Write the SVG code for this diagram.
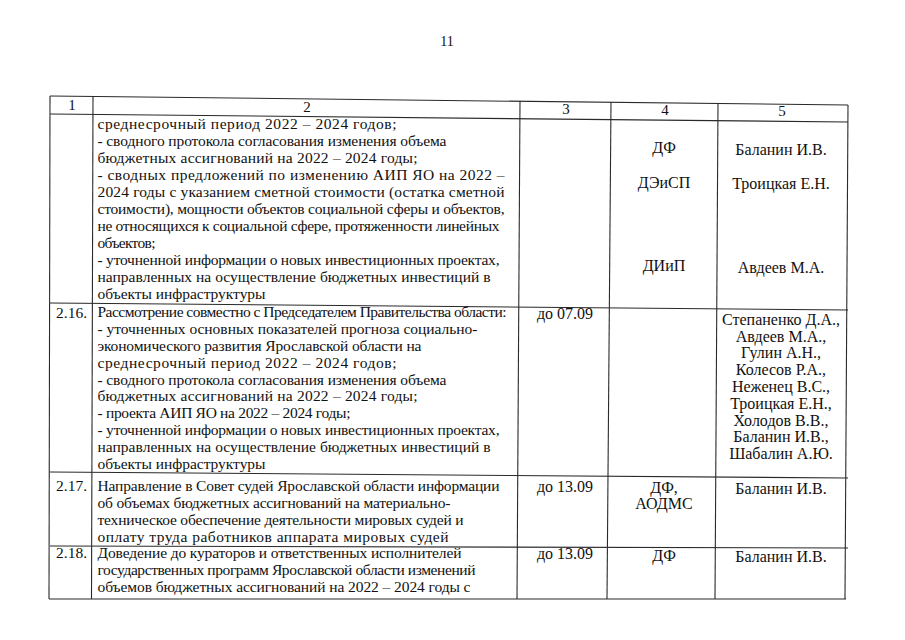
<svg xmlns="http://www.w3.org/2000/svg" width="905" height="640" viewBox="0 0 905 640">
<style>
text{font-family:"Liberation Serif","Times New Roman","DejaVu Serif",serif;font-size:15.5px;fill:#111}
.c{text-anchor:middle;font-size:16px}
.h{text-anchor:middle;font-size:15px}
.ln{stroke:#2a2a2a;stroke-width:1.1;fill:none}
</style>
<rect width="905" height="640" fill="#fff"/>
<text id="pagenum" class="h" x="447" y="46" style="font-size:14px">11</text>
<g id="grid">
<line class="ln" x1="50" y1="96" x2="848" y2="105"/>
<line class="ln" x1="50" y1="114" x2="848" y2="122"/>
<line class="ln" x1="50" y1="303" x2="848" y2="310"/>
<line class="ln" x1="50" y1="472" x2="848" y2="478"/>
<line class="ln" x1="50" y1="546" x2="848" y2="548"/>
<line class="ln" x1="49" y1="599" x2="846" y2="599"/>
<line class="ln" x1="50" y1="96" x2="49" y2="599"/>
<line class="ln" x1="93" y1="96.5" x2="91.5" y2="599"/>
<line class="ln" x1="520" y1="101" x2="517" y2="599"/>
<line class="ln" x1="611" y1="102" x2="607" y2="599"/>
<line class="ln" x1="718" y1="103" x2="715" y2="599"/>
<line class="ln" x1="848" y1="105" x2="845" y2="599"/>
</g>
<g id="header">
<text class="h" x="72" y="110">1</text>
<text class="h" x="307" y="112">2</text>
<text class="h" x="566" y="114">3</text>
<text class="h" x="665" y="115">4</text>
<text class="h" x="782" y="116">5</text>
</g>
<g id="row-cont" lengthAdjust="spacing">
<text x="97.5" y="129" textLength="299" lengthAdjust="spacing">среднесрочный период 2022 – 2024 годов;</text>
<text x="97.5" y="146" textLength="349" lengthAdjust="spacing">- сводного протокола согласования изменения объема</text>
<text x="97.5" y="163" textLength="320" lengthAdjust="spacing">бюджетных ассигнований на 2022 – 2024 годы;</text>
<text x="97.5" y="180" textLength="407" lengthAdjust="spacing">- сводных предложений по изменению АИП ЯО на 2022 –</text>
<text x="97.5" y="197" textLength="407" lengthAdjust="spacing">2024 годы с указанием сметной стоимости (остатка сметной</text>
<text x="97.5" y="214" textLength="407" lengthAdjust="spacing">стоимости), мощности объектов социальной сферы и объектов,</text>
<text x="97.5" y="231" textLength="402" lengthAdjust="spacing">не относящихся к социальной сфере, протяженности линейных</text>
<text x="97.5" y="248" textLength="58" lengthAdjust="spacing">объектов;</text>
<text x="97.5" y="265" textLength="402" lengthAdjust="spacing">- уточненной информации о новых инвестиционных проектах,</text>
<text x="97.5" y="282" textLength="393" lengthAdjust="spacing">направленных на осуществление бюджетных инвестиций в</text>
<text x="97.5" y="299" textLength="168" lengthAdjust="spacing">объекты инфраструктуры</text>
<text class="c" x="664" y="153">ДФ</text>
<text class="c" x="664" y="188">ДЭиСП</text>
<text class="c" x="664" y="271">ДИиП</text>
<text class="c" x="781" y="155">Баланин И.В.</text>
<text class="c" x="781" y="189">Троицкая Е.Н.</text>
<text class="c" x="781" y="273">Авдеев М.А.</text>
</g>
<g id="row-2-16">
<text x="56" y="318">2.16.</text>
<text x="97.5" y="317" textLength="409" lengthAdjust="spacing">Рассмотрение совместно с Председателем Правительства области:</text>
<text x="97.5" y="334" textLength="380" lengthAdjust="spacing">- уточненных основных показателей прогноза социально-</text>
<text x="97.5" y="351" textLength="324" lengthAdjust="spacing">экономического развития Ярославской области на</text>
<text x="97.5" y="367.5" textLength="299" lengthAdjust="spacing">среднесрочный период 2022 – 2024 годов;</text>
<text x="97.5" y="384.5" textLength="349" lengthAdjust="spacing">- сводного протокола согласования изменения объема</text>
<text x="97.5" y="401" textLength="320" lengthAdjust="spacing">бюджетных ассигнований на 2022 – 2024 годы;</text>
<text x="97.5" y="418" textLength="253" lengthAdjust="spacing">- проекта АИП ЯО на 2022 – 2024 годы;</text>
<text x="97.5" y="435" textLength="402" lengthAdjust="spacing">- уточненной информации о новых инвестиционных проектах,</text>
<text x="97.5" y="451.5" textLength="393" lengthAdjust="spacing">направленных на осуществление бюджетных инвестиций в</text>
<text x="97.5" y="468.5" textLength="168" lengthAdjust="spacing">объекты инфраструктуры</text>
<text class="c" x="565" y="319">до 07.09</text>
<text class="c" x="781" y="325">Степаненко Д.А.,</text>
<text class="c" x="781" y="342">Авдеев М.А.,</text>
<text class="c" x="781" y="358">Гулин А.Н.,</text>
<text class="c" x="781" y="375">Колесов Р.А.,</text>
<text class="c" x="781" y="392">Неженец В.С.,</text>
<text class="c" x="781" y="409">Троицкая Е.Н.,</text>
<text class="c" x="781" y="426">Холодов В.В.,</text>
<text class="c" x="781" y="442">Баланин И.В.,</text>
<text class="c" x="781" y="459">Шабалин А.Ю.</text>
</g>
<g id="row-2-17">
<text x="56" y="491">2.17.</text>
<text x="97.5" y="491" textLength="402" lengthAdjust="spacing">Направление в Совет судей Ярославской области информации</text>
<text x="97.5" y="508" textLength="353" lengthAdjust="spacing">об объемах бюджетных ассигнований на материально-</text>
<text x="97.5" y="525" textLength="366" lengthAdjust="spacing">техническое обеспечение деятельности мировых судей и</text>
<text x="97.5" y="541.5" textLength="351" lengthAdjust="spacing">оплату труда работников аппарата мировых судей</text>
<text class="c" x="565" y="492">до 13.09</text>
<text class="c" x="664" y="493">ДФ,</text>
<text class="c" x="664" y="509">АОДМС</text>
<text class="c" x="781" y="494">Баланин И.В.</text>
</g>
<g id="row-2-18">
<text x="56" y="558">2.18.</text>
<text x="97.5" y="558" textLength="364" lengthAdjust="spacing">Доведение до кураторов и ответственных исполнителей</text>
<text x="97.5" y="575" textLength="378" lengthAdjust="spacing">государственных программ Ярославской области изменений</text>
<text x="97.5" y="591.5" textLength="373" lengthAdjust="spacing">объемов бюджетных ассигнований на 2022 – 2024 годы с</text>
<text class="c" x="565" y="559">до 13.09</text>
<text class="c" x="664" y="561">ДФ</text>
<text class="c" x="781" y="562">Баланин И.В.</text>
</g>
</svg>
